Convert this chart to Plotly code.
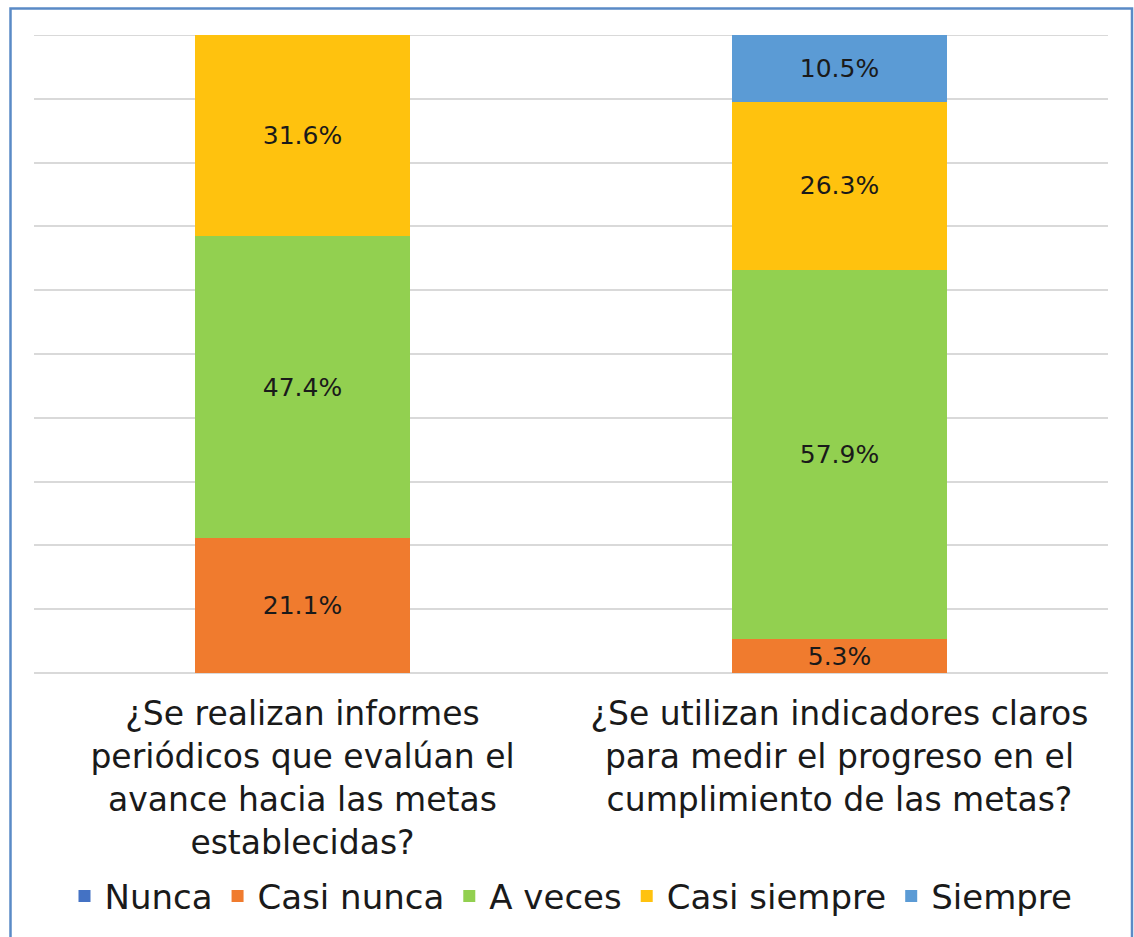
import plotly.graph_objects as go

categories = [
    "¿Se realizan informes<br>periódicos que evalúan el<br>avance hacia las metas<br>establecidas?",
    "¿Se utilizan indicadores claros<br>para medir el progreso en el<br>cumplimiento de las metas?",
]
series_names = ["Nunca", "Casi nunca", "A veces", "Casi siempre", "Siempre"]
nunca = [0, 0]
casi_nunca = [21.1, 5.3]
a_veces = [47.4, 57.9]
casi_siempre = [31.6, 26.3]
siempre = [0, 10.5]
colors = ["#4472C4", "#F07B2E", "#92D050", "#FFC20E", "#5B9BD5"]

FONT = "DejaVu Sans"
W, H = 1134, 937
L, R, T, B = 34, 26, 35, 261
pw, ph = W - L - R, H - T - B

fig = go.Figure()
for name, vals, col in zip(series_names, [nunca, casi_nunca, a_veces, casi_siempre, siempre], colors):
    fig.add_trace(go.Bar(
        name=name, x=categories, y=vals,
        marker=dict(color=col, line=dict(width=0)),
        text=[f"{v:.1f}%" if v else "" for v in vals],
        textposition="inside", insidetextanchor="middle",
        textfont=dict(family=FONT, size=25, color="#1a1a1a"),
        constraintext="none",
    ))

fig.update_layout(
    barmode="stack", bargap=0.6,
    width=W, height=H,
    margin=dict(l=L, r=R, t=T, b=B),
    paper_bgcolor="white", plot_bgcolor="white",
    font=dict(family=FONT, color="#1a1a1a"),
    showlegend=True,
    legend=dict(orientation="h", x=0.5, xanchor="center", y=-0.35, yanchor="middle",
                font=dict(family=FONT, size=34, color="#1a1a1a"), traceorder="normal"),
    xaxis=dict(tickfont=dict(family=FONT, size=33, color="#1a1a1a"), showline=False, ticks="",
               ticklabelstandoff=18),
    yaxis=dict(range=[0, 100], dtick=10, showticklabels=False, gridcolor="#D9D9D9", gridwidth=2,
               zeroline=True, zerolinecolor="#D9D9D9", zerolinewidth=2),
    shapes=[
        dict(type="rect", xref="paper", yref="paper",
             x0=(10.5 - L) / pw, x1=(1132 - L) / pw,
             y0=-0.45, y1=1 + (T - 8.5) / ph,
             line=dict(color="#5A8AC6", width=2.5), fillcolor="rgba(0,0,0,0)", layer="below"),
        dict(type="line", xref="paper", yref="y", x0=0, x1=1, y0=100, y1=100,
             line=dict(color="#D9D9D9", width=2), layer="below"),
    ],
)
fig.write_html("out.html", config={"displayModeBar": False},
               post_script="document.body.style.margin='0';document.body.style.overflow='hidden';")
